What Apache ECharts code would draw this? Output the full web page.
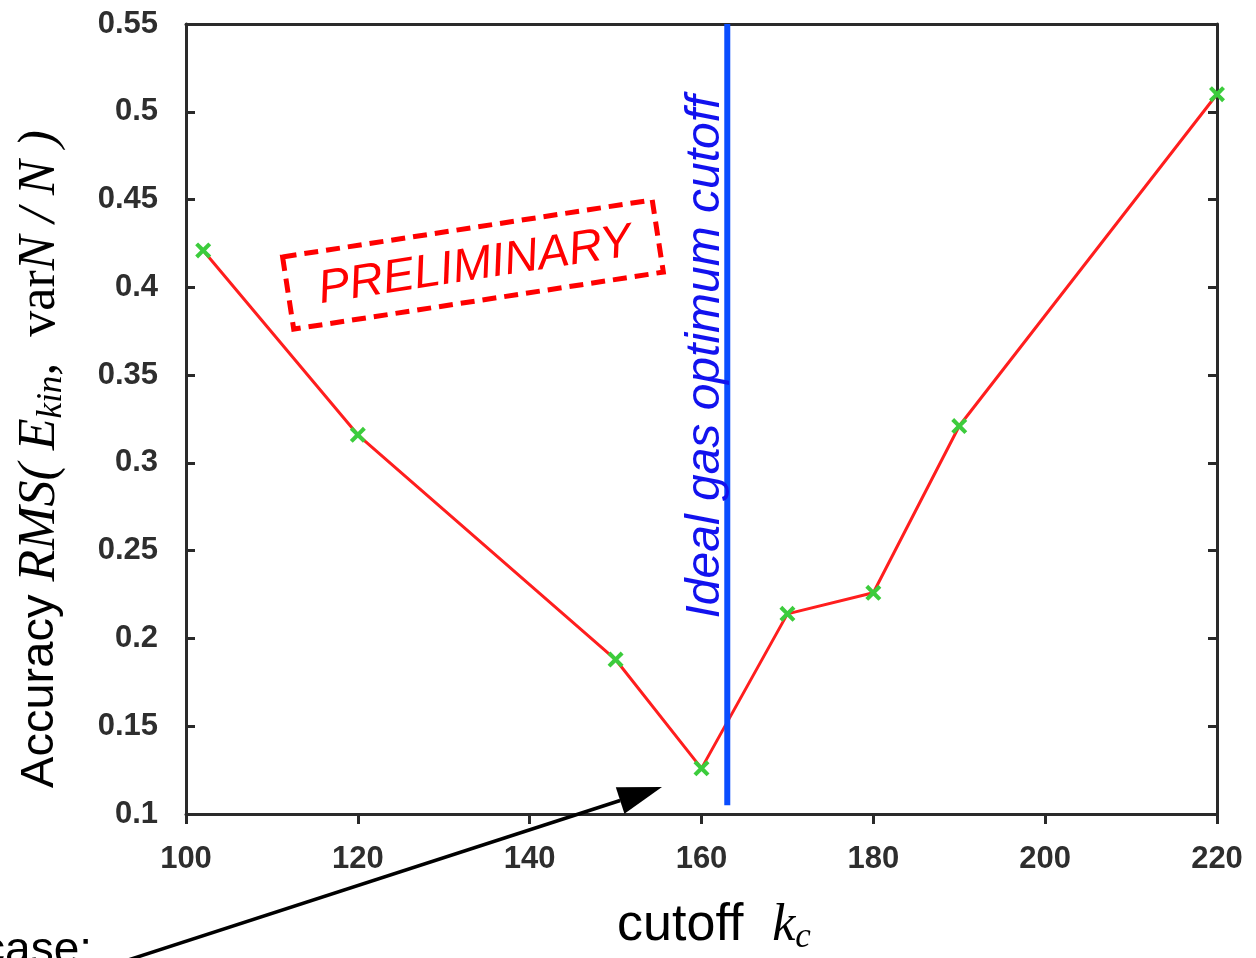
<!DOCTYPE html>
<html><head><meta charset="utf-8">
<script src="https://cdn.jsdelivr.net/npm/echarts@6/dist/echarts.min.js"></script>
<style>html,body{margin:0;padding:0;background:#fff}#c{width:1256px;height:958px}</style>
</head><body><div id="c"></div>
<script>
// ---- data ----
const cutoffs = [102, 120, 150, 160, 170, 180, 190, 220];
const rmsValues = [0.421, 0.316, 0.188, 0.126, 0.214, 0.226, 0.321, 0.510];
const xTicks = [100, 120, 140, 160, 180, 200, 220];
const yTicks = [0.1, 0.15, 0.2, 0.25, 0.3, 0.35, 0.4, 0.45, 0.5, 0.55];
const optimumCutoff = 163;
const optimumLineRange = [0.105, 0.55];
const optimumLabel = 'Ideal gas optimum cutoff';
const stampLabel = 'PRELIMINARY';
const stampAnchor = [133.4, 0.413];      // data coords of stamp centre
const arrowTip = [155.4, 0.1154];        // data coords of arrow tip

const chart = echarts.init(document.getElementById('c'));
const axisCol = '#2a2a2a';
const labelStyle = {fontFamily: 'Liberation Sans', fontWeight: 'bold', fontSize: 31, color: '#2e2e2e'};
const xStep = xTicks[1] - xTicks[0];
const yStep = +(yTicks[1] - yTicks[0]).toFixed(4);

const option = {
  animation: false,
  backgroundColor: '#fff',
  grid: {left: 186, right: 39, top: 24, bottom: 144, containLabel: false},
  xAxis: [{
    type: 'value', min: xTicks[0], max: xTicks[xTicks.length - 1], interval: xStep,
    axisLine: {show: true, lineStyle: {color: axisCol, width: 3}},
    axisTick: {show: true, inside: false, length: 10, lineStyle: {color: axisCol, width: 3}},
    axisLabel: Object.assign({margin: 30}, labelStyle),
    splitLine: {show: false}
  }, {
    type: 'value', position: 'top', min: xTicks[0], max: xTicks[xTicks.length - 1], interval: xStep,
    axisLine: {show: true, lineStyle: {color: axisCol, width: 3}},
    axisTick: {show: false}, axisLabel: {show: false}, splitLine: {show: false}
  }],
  yAxis: [{
    type: 'value', min: yTicks[0], max: yTicks[yTicks.length - 1], interval: yStep,
    axisLine: {show: true, lineStyle: {color: axisCol, width: 3}},
    axisTick: {show: true, inside: true, length: 9, lineStyle: {color: axisCol, width: 3}},
    axisLabel: Object.assign({margin: 28, formatter: v => String(+v.toFixed(2))}, labelStyle),
    splitLine: {show: false}
  }, {
    type: 'value', position: 'right', min: yTicks[0], max: yTicks[yTicks.length - 1], interval: yStep,
    axisLine: {show: true, lineStyle: {color: axisCol, width: 3}},
    axisTick: {show: true, inside: true, length: 9, lineStyle: {color: axisCol, width: 3}},
    axisLabel: {show: false}, splitLine: {show: false}
  }],
  series: [{
    type: 'line',
    data: cutoffs.map((c, i) => [c, rmsValues[i]]),
    lineStyle: {color: '#ff1e1e', width: 3},
    symbol: 'path://M0,1.8L1.8,0L5,3.2L8.2,0L10,1.8L6.8,5L10,8.2L8.2,10L5,6.8L1.8,10L0,8.2L3.2,5Z',
    symbolSize: 16,
    itemStyle: {color: '#3ccc3c'},
    z: 3
  }, {
    type: 'line',
    data: [[optimumCutoff, optimumLineRange[0]], [optimumCutoff, optimumLineRange[1]]],
    symbol: 'none',
    lineStyle: {color: '#0a4dff', width: 6},
    z: 4
  }]
};
chart.setOption(option);

const px = p => chart.convertToPixel({seriesIndex: 0}, p);
const lineTop = px([optimumCutoff, optimumLineRange[1]]);
const stampC = px(stampAnchor);
const tip = px(arrowTip);
const start = [122, 962];
const dx = tip[0] - start[0], dy = tip[1] - start[1];
const L = Math.hypot(dx, dy), ux = dx / L, uy = dy / L;
const headLen = 44, headHalf = 14;
const base = [tip[0] - ux * headLen, tip[1] - uy * headLen];
const perp = [-uy, ux];

chart.setOption({
  graphic: [
    // optimum label along the blue line
    {type: 'text', x: lineTop[0] - 22, y: 357, rotation: Math.PI / 2, z: 10,
      style: {text: optimumLabel, fontFamily: 'Liberation Sans', fontStyle: 'italic', fontSize: 48,
        fill: '#1212ee', align: 'center', verticalAlign: 'middle'}},
    // PRELIMINARY stamp
    {type: 'group', x: stampC[0], y: stampC[1], rotation: 0.153, z: 10, children: [
      {type: 'rect', shape: {x: -187, y: -36.5, width: 374, height: 73},
        style: {fill: 'none', stroke: '#ff0000', lineWidth: 5, lineDash: [14, 8]}},
      {type: 'text', x: 2, y: 2, style: {text: stampLabel, fontFamily: 'Liberation Sans', fontStyle: 'italic',
        fontSize: 47, fill: '#ff0000', align: 'center', verticalAlign: 'middle'}}
    ]},
    // y axis title
    {type: 'text', x: 40, y: 459, rotation: Math.PI / 2, z: 10,
      style: {
        text: '{a|Accuracy }{b|RMS( E}{s|kin}{b|,  }{c|var}{b|N / N )}',
        align: 'center', verticalAlign: 'middle', fill: '#000',
        rich: {
          a: {fontFamily: 'Liberation Sans', fontSize: 47, lineHeight: 58, fill: '#000'},
          b: {fontFamily: 'Liberation Serif', fontStyle: 'italic', fontSize: 52, lineHeight: 58, fill: '#000'},
          c: {fontFamily: 'Liberation Serif', fontSize: 52, lineHeight: 58, fill: '#000'},
          s: {fontFamily: 'Liberation Serif', fontStyle: 'italic', fontSize: 35, lineHeight: 38, verticalAlign: 'bottom', fill: '#000'}
        }
      }},
    // x axis title
    {type: 'text', x: 714, y: 926, z: 10,
      style: {
        text: '{a|cutoff  }{k|k}{s|c}', align: 'center', verticalAlign: 'middle', fill: '#000',
        rich: {
          a: {fontFamily: 'Liberation Sans', fontSize: 52, lineHeight: 58, fill: '#000'},
          k: {fontFamily: 'Liberation Serif', fontStyle: 'italic', fontSize: 52, lineHeight: 58, fill: '#000'},
          s: {fontFamily: 'Liberation Serif', fontStyle: 'italic', fontSize: 35, lineHeight: 36, verticalAlign: 'bottom', fill: '#000'}
        }
      }},
    // cut-off text at bottom-left
    {type: 'text', x: 92, y: 974, z: 10,
      style: {text: 'case:', fontFamily: 'Liberation Sans', fontSize: 46, fill: '#000', align: 'right', verticalAlign: 'bottom'}},
    // arrow
    {type: 'line', z: 10, shape: {x1: start[0], y1: start[1], x2: base[0], y2: base[1]},
      style: {stroke: '#000', lineWidth: 3.5}},
    {type: 'polygon', z: 10, shape: {points: [tip,
      [base[0] + perp[0] * headHalf, base[1] + perp[1] * headHalf],
      [base[0] - perp[0] * headHalf, base[1] - perp[1] * headHalf]]},
      style: {fill: '#000'}}
  ]
});
</script>
</body></html>
